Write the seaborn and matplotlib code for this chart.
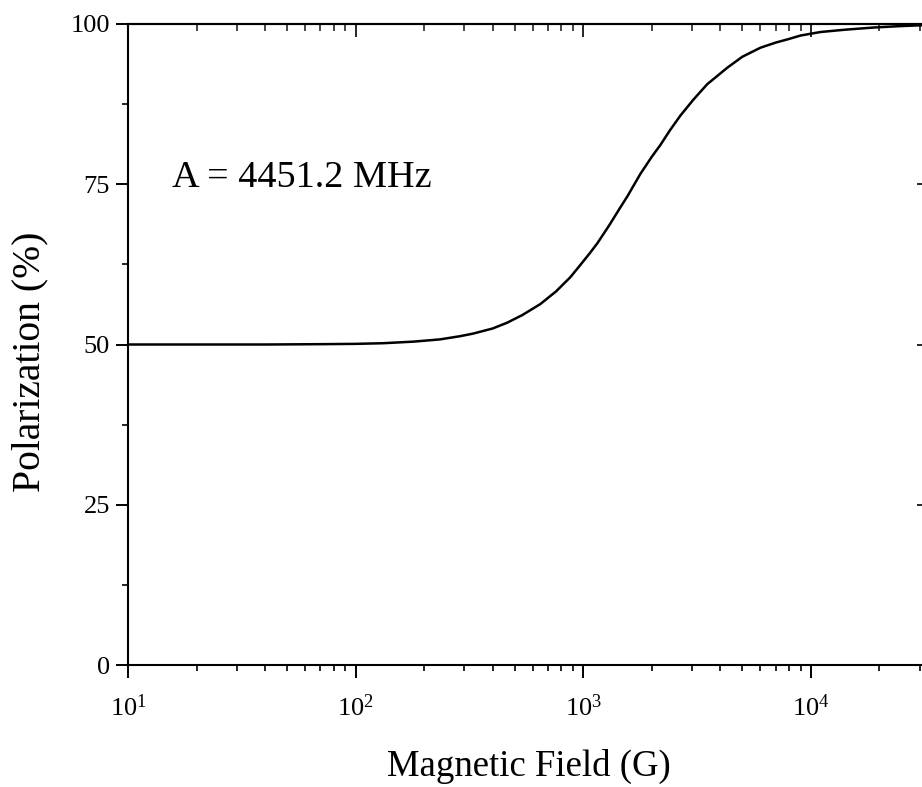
import matplotlib
matplotlib.use("Agg")
import matplotlib.pyplot as plt
import matplotlib.ticker as mticker
import seaborn as sns
import pandas as pd
import numpy as np

# Data
field_G = [10, 20, 40, 70, 100, 132, 180, 235, 288, 328, 400, 463, 540, 647,
           760, 877, 970, 1060, 1153, 1300, 1455, 1561, 1780, 2000, 2178, 2400,
           2668, 3045, 3500, 4297, 5000, 5998, 7000, 7888, 9000, 11010, 14000,
           18830, 24000, 30270, 33000]
polarization = [50.0, 50.0, 50.0, 50.05, 50.1, 50.2, 50.45, 50.8, 51.3, 51.7,
                52.5, 53.4, 54.6, 56.3, 58.3, 60.5, 62.4, 64.1, 65.8, 68.6,
                71.4, 73.1, 76.6, 79.3, 81.1, 83.4, 85.7, 88.2, 90.6, 93.2,
                94.9, 96.3, 97.1, 97.6, 98.2, 98.75, 99.1, 99.45, 99.65, 99.8,
                99.85]
y_ticks = [0, 25, 50, 75, 100]
annotation = "A = 4451.2 MHz"
x_label = "Magnetic Field (G)"
y_label = "Polarization (%)"

df = pd.DataFrame({"B": field_G, "P": polarization})

sns.set_theme(style="ticks")
plt.rcParams["font.family"] = ["Liberation Serif", "DejaVu Serif"]
plt.rcParams["mathtext.fontset"] = "custom"
plt.rcParams["mathtext.rm"] = "Liberation Serif"
plt.rcParams["mathtext.it"] = "Liberation Serif:italic"
plt.rcParams["mathtext.bf"] = "Liberation Serif:bold"

fig = plt.figure(figsize=(9.22, 7.87), dpi=100)
ax = fig.add_axes([128 / 922, 1 - 665 / 787, (929 - 128) / 922, 641 / 787])

sns.lineplot(data=df, x="B", y="P", ax=ax, color="black", linewidth=1.8,
             estimator=None, sort=False)

ax.set_xscale("log")
ax.set_xlim(10, 33000)
ax.set_ylim(0, 100)
ax.set_yticks(y_ticks)
ax.yaxis.set_minor_locator(mticker.MultipleLocator(12.5))
ax.xaxis.set_major_locator(mticker.LogLocator(base=10, numticks=10))
ax.xaxis.set_minor_locator(mticker.LogLocator(base=10, subs=np.arange(2, 10), numticks=20))
ax.xaxis.set_minor_formatter(mticker.NullFormatter())
ax.xaxis.set_major_formatter(mticker.FuncFormatter(
    lambda v, p: r"$\mathregular{10^{%d}}$" % int(round(np.log10(v)))))

for s in ax.spines.values():
    s.set_linewidth(1.5)
    s.set_color("black")
    s.set_visible(True)

ax.tick_params(axis="both", which="major", direction="out", length=9, width=1.4,
               color="black", labelsize=19, labelcolor="black")
ax.tick_params(axis="both", which="minor", direction="out", length=4.5, width=1.2,
               color="black")
ax.tick_params(axis="x", which="major", pad=12)
ax.tick_params(axis="y", which="major", pad=4)
ax.tick_params(top=False, right=False, which="both")

# top and right axes with inward ticks
axt = ax.secondary_xaxis("top")
axt.xaxis.set_major_locator(mticker.LogLocator(base=10, numticks=10))
axt.xaxis.set_minor_locator(mticker.LogLocator(base=10, subs=np.arange(2, 10), numticks=20))
axt.tick_params(which="major", direction="in", length=9, width=1.4, labeltop=False)
axt.tick_params(which="minor", direction="in", length=5, width=1.2)
axt.spines["top"].set_linewidth(1.5)

axr = ax.secondary_yaxis("right")
axr.set_yticks(y_ticks)
axr.yaxis.set_minor_locator(mticker.MultipleLocator(12.5))
axr.tick_params(which="major", direction="in", length=9, width=1.4, labelright=False)
axr.tick_params(which="minor", direction="in", length=5, width=1.2)
axr.spines["right"].set_linewidth(1.5)

ax.set_xlabel(x_label, fontsize=26.5, labelpad=20, color="black")
ax.set_ylabel(y_label, fontsize=28.5, color="black")
ax.yaxis.set_label_coords((48 - 128) / 801, (665 - 362) / 641)

ax.text((172 - 128) / 801, (665 - 187) / 641, annotation, transform=ax.transAxes,
        fontsize=27.5, va="baseline", ha="left", color="black")

fig.savefig("out.png", dpi=100)
